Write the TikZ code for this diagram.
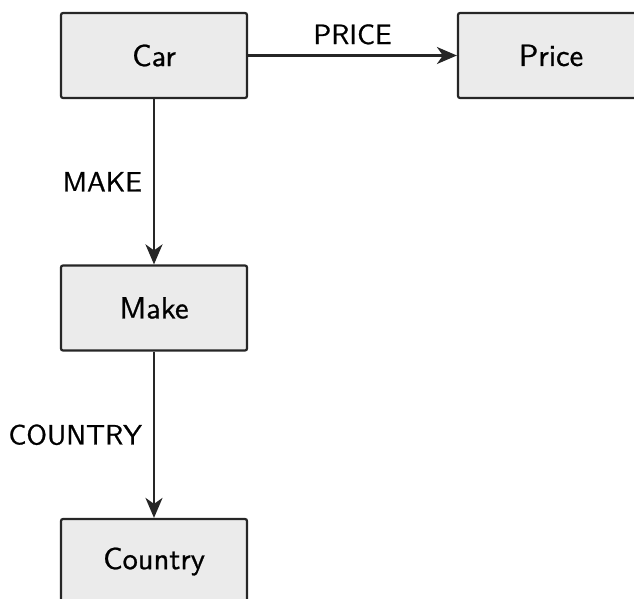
\documentclass[tikz,border=0pt]{standalone}
\usepackage{fontspec}
\newfontfamily\boxfont{lmsans10-regular.otf}[FakeBold=0.8]
\usetikzlibrary{arrows.meta}
\begin{document}
\begin{tikzpicture}[x=1pt,y=1pt,
  box/.style={draw=black!85, line width=2.2pt, fill=black!8, rounded corners=2pt,
    minimum width=186pt, minimum height=85pt, inner sep=0pt,
    font=\boxfont\fontsize{30.5}{36}\selectfont},
  conn/.style={line width=2.2pt, draw=black!85, -{Stealth[length=20pt,width=17pt,inset=6pt]}},
  lbl/.style={font=\boxfont\fontsize{28}{33}\selectfont, inner sep=0pt}]
\clip (0,0) rectangle (634,599);
\path[use as bounding box] (0,0) rectangle (634,599);
\node[box] (car) at (154,543.5) {Car};
\node[box] (price) at (551,543.5) {Price};
\node[box] (make) at (154,291) {Make};
\node[box] (country) at (154,37.5) {Country};
\draw[conn] (car) -- node[lbl, above=10pt] {PRICE} (price);
\draw[conn] (car) -- node[lbl, left=11pt] {MAKE} (make);
\draw[conn] (make) -- node[lbl, left=11pt] {COUNTRY} (country);
\end{tikzpicture}
\end{document}
